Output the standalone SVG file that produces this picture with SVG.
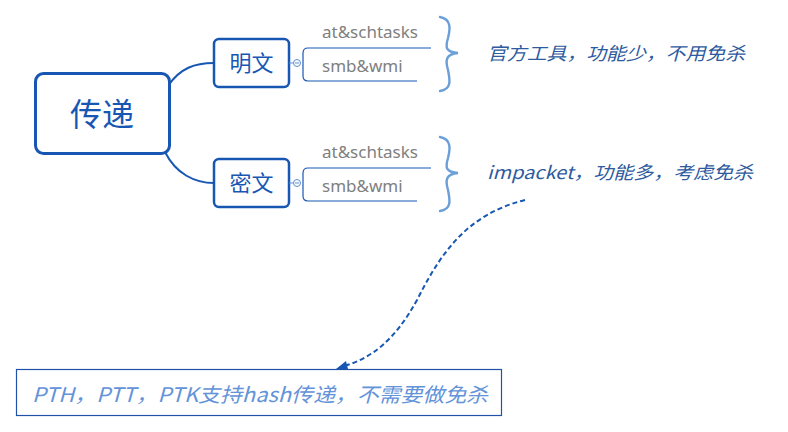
<svg xmlns="http://www.w3.org/2000/svg" width="788" height="432" viewBox="0 0 788 432">
<defs>
<style>
.node{fill:#fff;stroke:#1757b3;}
.ntext{font-family:"Noto Sans CJK SC","Noto Sans",sans-serif;fill:#1757b3;text-anchor:middle;}
.sub{font-family:"Noto Sans","Noto Sans CJK SC",sans-serif;font-size:17px;fill:#808080;}
.bracket{fill:none;stroke:#1757b3;stroke-width:1.2;}
.brace{fill:none;stroke:#6a9fd8;stroke-width:2.4;stroke-linecap:round;}
.note{font-family:"Noto Sans CJK SC","Noto Sans",sans-serif;font-style:italic;font-size:18px;fill:#2e5a9e;}
.conn{fill:none;stroke:#1757b3;stroke-width:2;}
.coll{fill:#fff;stroke:#5b8fd6;stroke-width:1;}
</style>
<marker id="arr" viewBox="0 0 10 10" refX="9" refY="5" markerWidth="5" markerHeight="5" orient="auto-start-reverse" markerUnits="strokeWidth">
<path d="M0,0 L10,5 L0,10 z" fill="#1757b3"/>
</marker>
</defs>
<rect width="788" height="432" fill="#fff"/>
<g id="connectors">
<path class="conn" d="M168,86 C180,68 195,63 214,63"/>
<path class="conn" d="M165,152 C176,174 195,183 214,183"/>
<path d="M525,200 C465,215 440,255 417,300 C395,340 372,358 344,366" fill="none" stroke="#1757b3" stroke-width="2" stroke-dasharray="5,3"/>
<path d="M336,369 L346,361 L348,369 z" fill="#1757b3"/>
</g>
<g id="root">
<rect class="node" x="35.5" y="73.5" width="134" height="80" rx="8" stroke-width="3"/>
<text class="ntext" x="102" y="126" font-size="32">传递</text>
</g>
<g id="mingwen">
<rect class="node" x="214" y="39" width="75" height="48" rx="5" stroke-width="2.5"/>
<text class="ntext" x="251.5" y="71" font-size="22">明文</text>
<line x1="289" y1="63" x2="293.5" y2="63" stroke="#5b8fd6"/>
<circle class="coll" cx="297" cy="63" r="3.5"/>
<line x1="295" y1="63" x2="299" y2="63" stroke="#5b8fd6"/>
</g>
<g id="mingwen-items">
<path class="bracket" d="M431,48 H308 Q303,48 303,53 V76 Q303,81 308,81 H417"/>
<text class="sub" x="322" y="38">at&amp;schtasks</text>
<text class="sub" x="322" y="72">smb&amp;wmi</text>
<path class="brace" d="M440,17 C452,19 450,30 448,38 C445,48 446,52 458,53 C446,54 445,60 448,70 C450,80 452,89 440,91"/>
<text class="note" x="487" y="60" textLength="258" lengthAdjust="spacingAndGlyphs">官方工具，功能少，不用免杀</text>
</g>
<g id="miwen">
<rect class="node" x="214" y="159" width="75" height="48" rx="5" stroke-width="2.5"/>
<text class="ntext" x="251.5" y="191" font-size="22">密文</text>
<line x1="289" y1="183" x2="293.5" y2="183" stroke="#5b8fd6"/>
<circle class="coll" cx="297" cy="183" r="3.5"/>
<line x1="295" y1="183" x2="299" y2="183" stroke="#5b8fd6"/>
</g>
<g id="miwen-items">
<path class="bracket" d="M431,168 H308 Q303,168 303,173 V196 Q303,201 308,201 H417"/>
<text class="sub" x="322" y="158">at&amp;schtasks</text>
<text class="sub" x="322" y="192">smb&amp;wmi</text>
<path class="brace" d="M440,137 C452,139 450,150 448,158 C445,168 446,172 458,173 C446,174 445,180 448,190 C450,200 452,209 440,211"/>
<text class="note" x="487" y="179" textLength="266" lengthAdjust="spacingAndGlyphs">impacket，功能多，考虑免杀</text>
</g>
<g id="pth">
<rect x="16.5" y="369.5" width="485" height="46" fill="#fff" stroke="#1f52a8" stroke-width="1.2"/>
<text x="32" y="402" font-family="Noto Sans CJK SC,Noto Sans,sans-serif" font-style="italic" font-size="20" fill="#6393d9" textLength="456" lengthAdjust="spacingAndGlyphs">PTH，PTT，PTK支持hash传递，不需要做免杀</text>
</g>
</svg>
